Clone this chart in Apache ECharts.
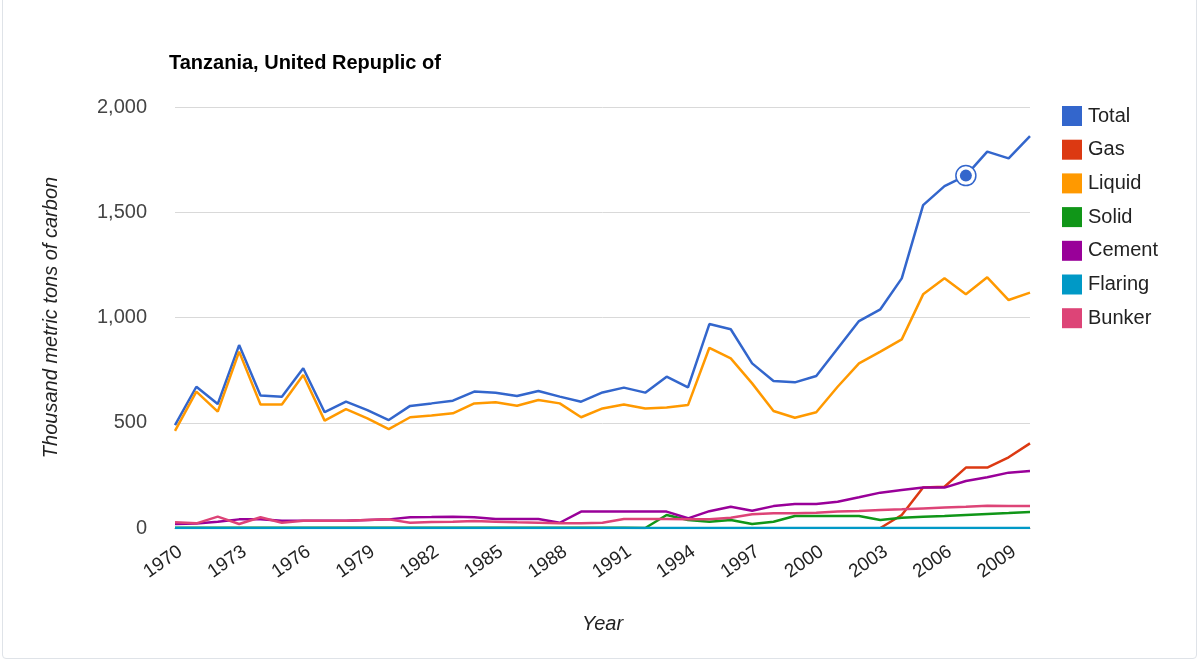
<!DOCTYPE html>
<html>
<head>
<meta charset="utf-8">
<script src="https://cdn.jsdelivr.net/npm/echarts@6/dist/echarts.min.js"></script>
<style>
html,body{margin:0;padding:0;background:#fff;}
#frame{position:absolute;left:2px;top:-4px;width:1195px;height:663px;border:1px solid #dfe3e8;border-radius:4px;box-sizing:border-box;}
#chart{position:absolute;left:0;top:0;width:1201px;height:664px;}
</style>
</head>
<body>
<div id="frame"></div>
<div id="chart"></div>
<script>
const years = [];
for (let y = 1970; y <= 2010; y++) years.push(String(y));

const total   = [489,671,589,869,629,624,759,550,600,560,513,580,592,605,648,643,627,651,624,600,644,667,643,719,668,969,944,782,698,692,722,853,983,1039,1186,1534,1624,1674,1788,1756,1862];
const gas     = [null,null,null,null,null,null,null,null,null,null,null,null,null,null,null,null,null,null,null,null,null,null,null,null,null,null,null,null,null,null,null,null,null,0,62,192,196,287,287,336,402];
const liquid  = [461,648,553,838,587,587,727,510,565,521,470,526,534,545,592,597,581,608,592,526,568,587,568,573,584,856,806,687,556,524,550,671,782,838,896,1110,1186,1110,1191,1083,1118];
const solid   = [1,1,1,1,1,1,1,1,1,1,1,1,1,1,1,1,1,1,1,1,1,1,0,62,38,30,38,19,30,57,57,57,57,38,49,54,57,62,67,71,76];
const cement  = [19,21,30,41,41,35,35,35,35,38,41,51,52,54,51,43,43,43,25,78,78,78,78,78,46,80,101,82,104,114,114,125,146,168,180,192,192,223,241,263,271];
const flaring = [0,0,0,0,0,0,0,0,0,0,0,0,0,0,0,0,0,0,0,0,0,0,0,0,0,0,0,0,0,0,0,0,0,0,0,0,0,0,0,0,0];
const bunker  = [27,22,54,19,51,25,35,35,35,38,41,25,28,30,33,30,27,25,22,22,25,43,43,43,41,41,49,65,70,70,73,78,81,86,89,93,97,101,106,105,105];

const seriesNames = ['Total','Gas','Liquid','Solid','Cement','Flaring','Bunker'];
const seriesData = [total, gas, liquid, solid, cement, flaring, bunker];
const colors = ['#3366cc','#dc3912','#ff9900','#109618','#990099','#0099c6','#dd4477'];
const yTicks = [0, 500, 1000, 1500, 2000];
const hoverYear = '2007';

const chart = echarts.init(document.getElementById('chart'));
const hi = years.indexOf(hoverYear);

const series = seriesNames.map((name, i) => {
  const s = {
    name: name,
    type: 'line',
    data: seriesData[i],
    showSymbol: false,
    symbol: 'none',
    lineStyle: { width: 2.5, color: colors[i] },
    itemStyle: { color: colors[i] },
    emphasis: { disabled: true },
    animation: false,
    z: 2
  };
  if (name === 'Total') {
    s.markPoint = {
      symbol: 'circle',
      animation: false,
      silent: true,
      data: [
        { coord: [hi, total[hi]], symbolSize: 20, itemStyle: { color: '#ffffff', borderColor: '#3366cc', borderWidth: 1.5 }, label: { show: false } },
        { coord: [hi, total[hi]], symbolSize: 12, itemStyle: { color: '#3366cc' }, label: { show: false } }
      ]
    };
  }
  return s;
});

chart.setOption({
  animation: false,
  color: colors,
  textStyle: { fontFamily: 'Liberation Sans, Arial, sans-serif' },
  title: {
    text: 'Tanzania, United Repuplic of',
    left: 164, top: 48,
    textStyle: { fontSize: 20, fontWeight: 'bold', color: '#000', fontFamily: 'Liberation Sans, Arial, sans-serif' }
  },
  legend: {
    orient: 'vertical',
    left: 1057, top: 101,
    itemWidth: 20, itemHeight: 20,
    itemGap: 13.7,
    icon: 'rect',
    data: seriesNames,
    textStyle: { fontSize: 20, color: '#222', padding: [0,0,0,1] }
  },
  grid: { left: 175, right: 171, top: 107, bottom: 136, containLabel: false },
  xAxis: {
    type: 'category',
    data: years,
    boundaryGap: false,
    name: 'Year',
    nameLocation: 'middle',
    nameGap: 86,
    nameTextStyle: { fontSize: 20, fontStyle: 'italic', color: '#222' },
    axisLine: { show: true, lineStyle: { color: '#888', width: 1 } },
    axisTick: { show: false },
    axisLabel: { interval: 2, rotate: 35, fontSize: 19, color: '#222', margin: 14, verticalAlign: 'top' },
    splitLine: { show: false }
  },
  yAxis: {
    type: 'value',
    min: 0, max: 2000, interval: 500,
    name: 'Thousand metric tons of carbon',
    nameLocation: 'middle',
    nameGap: 114,
    nameTextStyle: { fontSize: 20, fontStyle: 'italic', color: '#222' },
    axisLine: { show: false },
    axisTick: { show: false },
    axisLabel: {
      fontSize: 20, color: '#444', margin: 28,
      formatter: v => yTicks.includes(v) ? v.toLocaleString('en-US') : ''
    },
    splitLine: { lineStyle: { color: '#d9d9d9', width: 1 } }
  },
  series: series
});
</script>
</body>
</html>
